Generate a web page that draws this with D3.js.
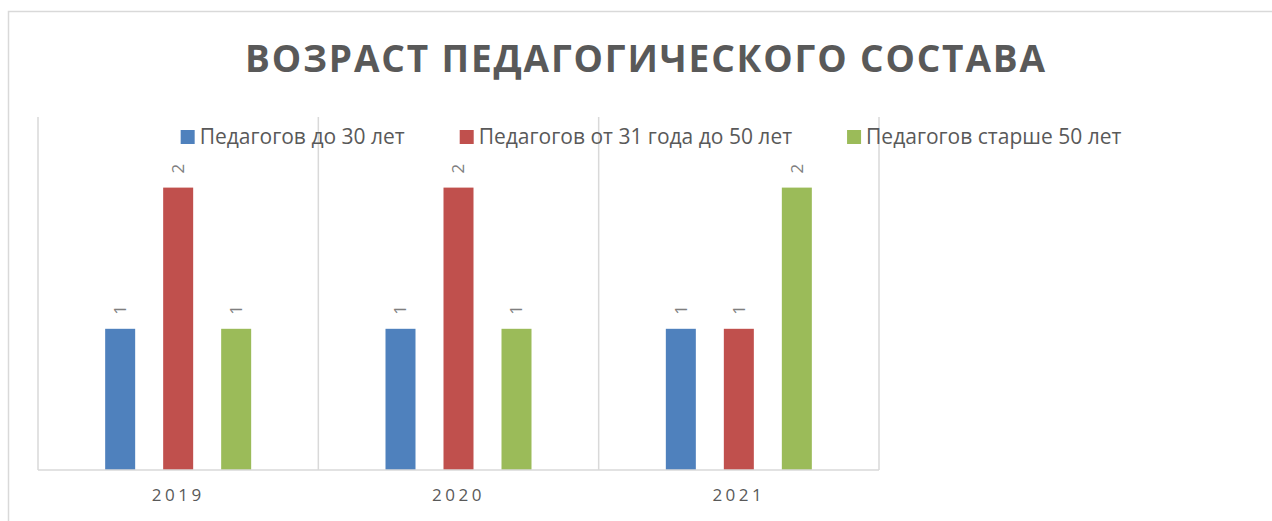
<!DOCTYPE html>
<html>
<head>
<meta charset="utf-8">
<script src="https://cdn.jsdelivr.net/npm/d3@7"></script>
<style>
  body { margin: 0; background: #fff; }
  svg { display: block; font-family: "Open Sans", sans-serif; }
</style>
</head>
<body>
<div id="chart"></div>
<script>
var title = 'ВОЗРАСТ ПЕДАГОГИЧЕСКОГО СОСТАВА';
var years = ['2019', '2020', '2021'];
var seriesNames = ['Педагогов до 30 лет', 'Педагогов от 31 года до 50 лет', 'Педагогов старше 50 лет'];
var under30 = [1, 1, 1];
var from31to50 = [2, 2, 1];
var over50 = [1, 1, 2];
var colors = ['#4F81BD', '#C0504D', '#9BBB59'];

var width = 1272,
  height = 521;

var plot = { left: 38, right: 879, top: 117, bottom: 470 };

var svg = d3.select('#chart').append('svg')
  .attr('width', width)
  .attr('height', height);

// outer chart border (runs past the window on the right / bottom)
svg.append('rect')
  .attr('x', 8.5).attr('y', 11.5)
  .attr('width', 1400).attr('height', 600)
  .attr('fill', 'none')
  .attr('stroke', '#D9D9D9')
  .attr('stroke-width', 1.5);

svg.append('text')
  .attr('x', 645)
  .attr('y', 72)
  .attr('text-anchor', 'middle')
  .attr('fill', '#595959')
  .style('font-size', '37px')
  .style('font-weight', 'bold')
  .attr('textLength', 800)
  .attr('lengthAdjust', 'spacing')
  .text(title);

var table = years.map(function (y, i) {
  return { year: y, values: [under30[i], from31to50[i], over50[i]] };
});

var x = d3.scaleBand()
  .domain(years)
  .range([plot.left, plot.right]);

var bw = x.bandwidth();
var inner = d3.scaleBand()
  .domain(d3.range(seriesNames.length))
  .range([bw / 2 - 73, bw / 2 + 73])
  .paddingInner(28 / 58);

var y = d3.scaleLinear()
  .domain([0, 2.5])
  .range([plot.bottom, plot.top]);

// vertical category separators
svg.append('g')
  .selectAll('line')
  .data(years.concat(['end']))
  .join('line')
  .attr('x1', function (d, i) { return i < years.length ? x(d) : plot.right; })
  .attr('x2', function (d, i) { return i < years.length ? x(d) : plot.right; })
  .attr('y1', plot.top)
  .attr('y2', plot.bottom)
  .attr('stroke', '#D9D9D9')
  .attr('stroke-width', 1.5);

var groups = svg.append('g')
  .selectAll('g')
  .data(table)
  .join('g')
  .attr('transform', function (d) { return 'translate(' + x(d.year) + ',0)'; });

groups.selectAll('rect')
  .data(function (d) { return d.values; })
  .join('rect')
  .attr('x', function (d, i) { return inner(i); })
  .attr('y', function (d) { return y(d); })
  .attr('width', inner.bandwidth())
  .attr('height', function (d) { return y(0) - y(d); })
  .attr('fill', function (d, i) { return colors[i]; });

groups.selectAll('text')
  .data(function (d) { return d.values; })
  .join('text')
  .attr('transform', function (d, i) {
    return 'translate(' + (inner(i) + inner.bandwidth() / 2) + ',' + (y(d) - 19) + ') rotate(-90)';
  })
  .attr('text-anchor', 'middle')
  .attr('dy', '0.35em')
  .attr('fill', '#7F7F7F')
  .style('font-size', '17px')
  .text(function (d) { return d; });

// baseline
svg.append('line')
  .attr('x1', plot.left).attr('x2', plot.right)
  .attr('y1', y(0)).attr('y2', y(0))
  .attr('stroke', '#D9D9D9')
  .attr('stroke-width', 1.5);

var xAxis = svg.append('g')
  .attr('transform', 'translate(0,' + y(0) + ')')
  .call(d3.axisBottom(x).tickSize(0).tickPadding(19));
xAxis.select('.domain').remove();
xAxis.selectAll('text')
  .attr('fill', '#595959')
  .style('font-size', '17px')
  .style('letter-spacing', '3.5px')
  .style('font-family', '"Open Sans", sans-serif');

// legend
var legend = svg.append('g');
var items = legend.selectAll('g')
  .data(seriesNames)
  .join('g');
items.append('rect')
  .attr('y', 130)
  .attr('width', 14)
  .attr('height', 14)
  .attr('fill', function (d, i) { return colors[i]; });
items.append('text')
  .attr('x', 19)
  .attr('y', 137)
  .attr('dy', '0.35em')
  .attr('fill', '#595959')
  .style('font-size', '21px')
  .text(function (d) { return d; });

var gap = 55;
var pos = 0, offsets = [];
items.each(function () {
  offsets.push(pos);
  pos += 19 + this.querySelector('text').getComputedTextLength() + gap;
});
var total = pos - gap;
var start = 651 - total / 2;
items.attr('transform', function (d, i) { return 'translate(' + (start + offsets[i]) + ',0)'; });
</script>
</body>
</html>
